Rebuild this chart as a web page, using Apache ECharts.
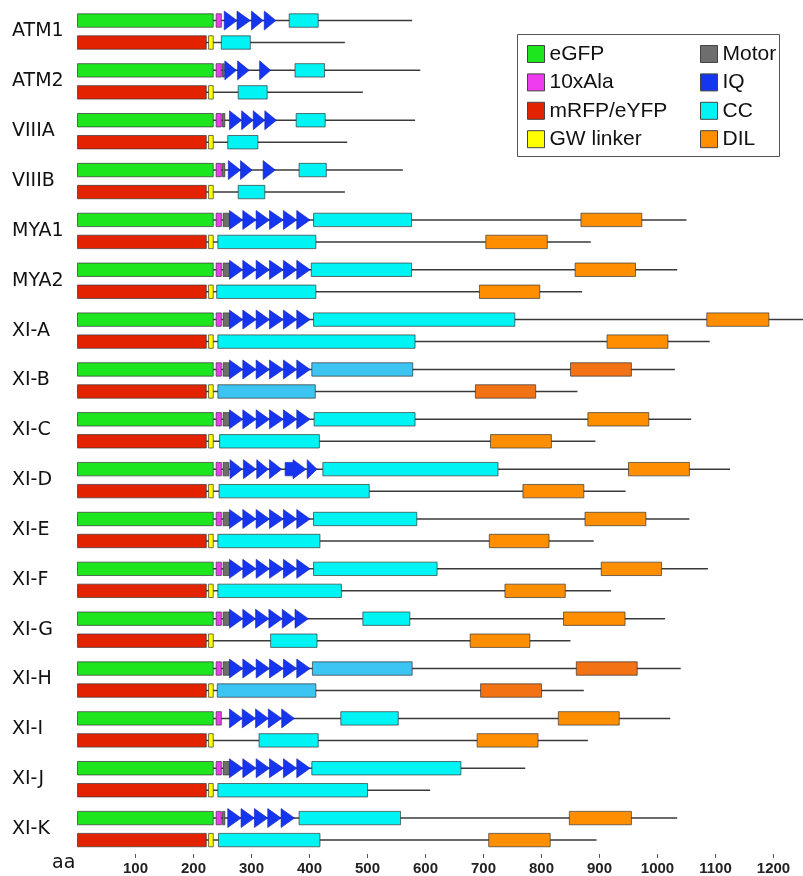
<!DOCTYPE html>
<html>
<head>
<meta charset="utf-8">
<script src="https://cdn.jsdelivr.net/npm/echarts@6/dist/echarts.min.js"></script>
<style>
  html, body { margin: 0; padding: 0; background: #ffffff; }
  #chart { width: 803px; height: 876px; }
</style>
</head>
<body>
<div id="chart"></div>
<script>
// ---- data (amino-acid positions) ----
const proteins = ['ATM1','ATM2','VIIIA','VIIIB','MYA1','MYA2','XI-A','XI-B','XI-C','XI-D','XI-E','XI-F','XI-G','XI-H','XI-I','XI-J','XI-K'];
const tickValues = [100,200,300,400,500,600,700,800,900,1000,1100,1200];

// fusion tags shared by every construct
const eGFP = [0, 234];
const ala10 = [239, 248];
const mRFP = [0, 222];
const gwLinker = [226, 234];

// construct lengths: top = eGFP fusion, bottom = mRFP/eYFP fusion
const topEnd    = [577, 591, 582, 561, 1050, 1034, 1260, 1030, 1058, 1125, 1055, 1087, 1013, 1040, 1022, 772, 1034];
const bottomEnd = [461, 492, 465, 461, 885, 870, 1090, 862, 893, 945, 890, 920, 850, 873, 880, 608, 895];

const motor = [
  null, [250,253], [250,254], [250,254], [251,262], [251,262], [251,262], [251,262], [251,262],
  [251,261], [251,262], [251,262], [251,262], [251,262], null, [251,262], [250,254]
];

const iqMotifs = [
  [[253,275],[275,298],[300,320],[322,342]],
  [[254,274],[276,296],[314,333]],
  [[262,283],[283,303],[303,323],[323,343]],
  [[260,281],[281,301],[320,341]],
  [[262,285],[285,308],[308,331],[331,355],[355,378],[378,401]],
  [[262,285],[285,308],[308,331],[331,355],[355,378],[378,401]],
  [[262,285],[285,308],[308,331],[331,355],[355,378],[378,401]],
  [[262,285],[285,308],[308,331],[331,355],[355,378],[378,401]],
  [[262,285],[285,308],[308,331],[331,355],[355,378],[378,401]],
  [[263,284],[286,308],[309,329],[331,352],[358,394],[396,413]],
  [[262,285],[285,308],[308,331],[331,355],[355,378],[378,401]],
  [[262,285],[285,308],[308,331],[331,355],[355,378],[378,401]],
  [[262,285],[285,307],[307,330],[330,353],[353,375],[375,398]],
  [[262,285],[285,308],[308,331],[331,355],[355,378],[378,401]],
  [[262,284],[284,307],[307,329],[329,352],[352,374]],
  [[262,285],[285,308],[308,331],[331,355],[355,378],[378,401]],
  [[259,282],[282,305],[305,328],[328,351],[351,374]]
];

const ccTop = [[365,415],[375,426],[377,427],[382,429],[407,576],[403,576],[407,754],[404,578],[408,582],[423,725],[407,585],[407,620],[492,573],[405,577],[454,553],[404,661],[382,557]];
const ccBottom = [[248,298],[277,327],[259,311],[277,323],[242,411],[240,411],[242,582],[242,410],[245,417],[244,503],[242,418],[242,455],[333,413],[241,411],[313,415],[242,500],[243,418]];
const dilTop = [null,null,null,null,[868,973],[858,962],[1085,1192],[850,955],[880,985],[950,1055],[875,980],[903,1007],[838,944],[860,965],[829,934],null,[848,955]];
const dilBottom = [null,null,null,null,[704,810],[693,797],[913,1018],[686,790],[712,817],[768,873],[710,813],[737,841],[677,780],[695,800],[689,794],null,[709,815]];

// ---- styling ----
const COLORS = {
  eGFP: '#1ee61e', ala: '#f03cf0', mRFP: '#e32200', gw: '#ffff00',
  motor: '#6e6e6e', iq: '#1535ee', cc: '#00f4f4', dil: '#ff8f00'
};
const SHADE_CC = '#3cc4f2';
const SHADE_DIL = '#f27214';
const shaded = new Set(['XI-B', 'XI-H']);

const TRACK_OFFSET = 11;   // px from row centre to each track
const BAR_H = 13.4;
const ARROW_H = 19;
const HEAD_W = 13;
const BOX_STROKE = 'rgba(55,55,55,0.7)';

function trackY(api, p, track) {
  const c = api.coord([0, p]);
  return c[1] + (track ? TRACK_OFFSET : -TRACK_OFFSET);
}

function renderBox(params, api) {
  const p = api.value(0), track = api.value(1);
  const a = api.coord([api.value(2), p]);
  const b = api.coord([api.value(3), p]);
  const yc = trackY(api, p, track);
  return {
    type: 'rect',
    shape: { x: a[0], y: yc - BAR_H / 2, width: b[0] - a[0], height: BAR_H },
    style: { fill: api.visual('color'), stroke: BOX_STROKE, lineWidth: 1 }
  };
}

function renderBackbone(params, api) {
  const p = api.value(0), track = api.value(1);
  const a = api.coord([0, p]);
  const b = api.coord([api.value(2), p]);
  const yc = trackY(api, p, track);
  return {
    type: 'line',
    shape: { x1: a[0], y1: yc, x2: b[0], y2: yc },
    style: { stroke: '#3a3a3a', lineWidth: 1.5 }
  };
}

function renderIQ(params, api) {
  const p = api.value(0);
  const x0 = api.coord([api.value(1), p])[0];
  const x1 = api.coord([api.value(2), p])[0];
  const yc = trackY(api, p, 0);
  let pts;
  if (x1 - x0 <= HEAD_W * 1.4) {
    pts = [[x0, yc - ARROW_H / 2], [x1, yc], [x0, yc + ARROW_H / 2]];
  } else {
    const xh = x1 - HEAD_W;
    pts = [[x0, yc - BAR_H / 2], [xh, yc - BAR_H / 2], [xh, yc - ARROW_H / 2], [x1, yc],
           [xh, yc + ARROW_H / 2], [xh, yc + BAR_H / 2], [x0, yc + BAR_H / 2]];
  }
  return {
    type: 'polygon',
    shape: { points: pts },
    style: { fill: api.visual('color'), stroke: '#1020b0', lineWidth: 0.6 }
  };
}

// ---- series data ----
const backboneData = [];
const eGFPData = [], alaData = [], mRFPData = [], gwData = [];
const motorData = [], iqData = [], ccData = [], dilData = [];

proteins.forEach((name, p) => {
  backboneData.push([p, 0, topEnd[p]], [p, 1, bottomEnd[p]]);
  eGFPData.push([p, 0, eGFP[0], eGFP[1]]);
  alaData.push([p, 0, ala10[0], ala10[1]]);
  mRFPData.push([p, 1, mRFP[0], mRFP[1]]);
  gwData.push([p, 1, gwLinker[0], gwLinker[1]]);
  if (motor[p]) motorData.push([p, 0, motor[p][0], motor[p][1]]);
  iqMotifs[p].forEach(m => iqData.push([p, m[0], m[1]]));
  const ccStyle = shaded.has(name) ? { itemStyle: { color: SHADE_CC } } : {};
  const dilStyle = shaded.has(name) ? { itemStyle: { color: SHADE_DIL } } : {};
  ccData.push(Object.assign({ value: [p, 0, ccTop[p][0], ccTop[p][1]] }, ccStyle));
  ccData.push(Object.assign({ value: [p, 1, ccBottom[p][0], ccBottom[p][1]] }, ccStyle));
  if (dilTop[p]) dilData.push(Object.assign({ value: [p, 0, dilTop[p][0], dilTop[p][1]] }, dilStyle));
  if (dilBottom[p]) dilData.push(Object.assign({ value: [p, 1, dilBottom[p][0], dilBottom[p][1]] }, dilStyle));
});

function boxSeries(name, color, data) {
  return {
    name, type: 'custom', renderItem: renderBox, data,
    itemStyle: { color },
    encode: { x: [2, 3], y: 0 },
    clip: true, silent: true
  };
}

const legendText = { fontFamily: 'Liberation Sans, Arial, sans-serif', fontSize: 21, color: '#111' };
const legendCommon = {
  orient: 'vertical', top: 43.5, itemWidth: 17, itemHeight: 17, itemGap: 7.4,
  icon: 'rect', padding: 0, selectedMode: false,
  itemStyle: { borderColor: '#444', borderWidth: 1 },
  textStyle: legendText
};

const option = {
  animation: false,
  backgroundColor: '#ffffff',
  grid: { left: 77.5, top: 6.6, width: 725, height: 847.6 },
  xAxis: {
    type: 'value', min: 0, max: 1250, interval: 100,
    splitLine: { show: false },
    axisLine: { show: false },
    axisTick: { show: true, length: 4, lineStyle: { color: '#555', width: 1 }, customValues: tickValues },
    axisLabel: {
      customValues: tickValues, margin: 7,
      formatter: v => String(v),
      fontFamily: 'Liberation Sans Narrow, Liberation Sans, Arial, sans-serif', fontWeight: 'bold', fontSize: 15, color: '#222'
    }
  },
  yAxis: {
    type: 'category', data: proteins, inverse: true,
    axisLine: { show: false }, axisTick: { show: false }, splitLine: { show: false },
    axisLabel: { align: 'left', margin: 65.5, fontFamily: 'DejaVu Sans, Verdana, sans-serif', fontSize: 19, color: '#111' }
  },
  legend: [
    Object.assign({ left: 527, data: ['eGFP', '10xAla', 'mRFP/eYFP', 'GW linker'] }, legendCommon),
    Object.assign({ left: 700, data: ['Motor', 'IQ', 'CC', 'DIL'] }, legendCommon)
  ],
  graphic: [
    { type: 'rect', z: 0, shape: { x: 517.5, y: 34.5, width: 262, height: 122 },
      style: { fill: '#ffffff', stroke: '#555', lineWidth: 1 } },
    { type: 'text', z: 1, style: { x: 52, y: 863.4, text: 'aa', fill: '#111',
      font: '19px "DejaVu Sans", Verdana, sans-serif', verticalAlign: 'middle' } }
  ],
  series: [
    { name: 'backbone', type: 'custom', renderItem: renderBackbone, data: backboneData,
      encode: { x: 2, y: 0 }, clip: true, silent: true },
    boxSeries('eGFP', COLORS.eGFP, eGFPData),
    boxSeries('10xAla', COLORS.ala, alaData),
    boxSeries('mRFP/eYFP', COLORS.mRFP, mRFPData),
    boxSeries('GW linker', COLORS.gw, gwData),
    boxSeries('Motor', COLORS.motor, motorData),
    { name: 'IQ', type: 'custom', renderItem: renderIQ, data: iqData,
      itemStyle: { color: COLORS.iq }, encode: { x: [1, 2], y: 0 }, clip: true, silent: true },
    boxSeries('CC', COLORS.cc, ccData),
    boxSeries('DIL', COLORS.dil, dilData)
  ]
};

const chart = echarts.init(document.getElementById('chart'), null, { renderer: 'canvas' });
chart.setOption(option);
</script>
</body>
</html>
